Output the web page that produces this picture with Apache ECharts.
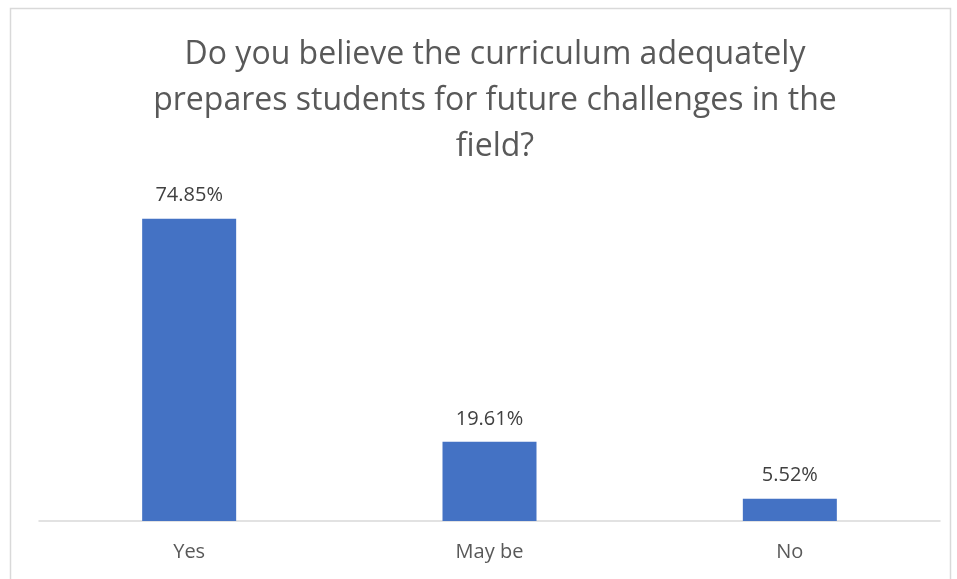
<!DOCTYPE html>
<html>
<head>
<meta charset="utf-8">
<script src="https://cdn.jsdelivr.net/npm/echarts@6/dist/echarts.min.js"></script>
<style>
  html, body { margin: 0; padding: 0; background: #fff; }
  #chart { width: 957px; height: 579px; }
</style>
</head>
<body>
<div id="chart"></div>
<script>
// 数据
var categories = ["Yes", "May be", "No"];
var percentValues = [74.85, 19.61, 5.52];
var titleText = "Do you believe the curriculum adequately\nprepares students for future challenges in the\nfield?";

(function () {
	var myChart = echarts.init(document.getElementById("chart"));
	var option = {
		title: {
			text: titleText,
			left: 490,
			top: 27,
			textAlign: "center",
			textStyle: {
				color: "#595959",
				fontFamily: "Open Sans",
				fontSize: 32,
				fontWeight: "normal",
				lineHeight: 46
			}
		},
		// 外框
		graphic: [{
			type: "rect",
			shape: { x: 10.5, y: 8.5, width: 940, height: 580 },
			style: { fill: "none", stroke: "#d9d9d9", lineWidth: 1.5 },
			silent: true
		}],
		grid: {
			left: 39,
			right: 17,
			top: 198,
			bottom: 58
		},
		xAxis: {
			type: "category",
			data: categories,
			axisTick: { show: false },
			axisLine: { lineStyle: { color: "#d9d9d9", width: 1.5 } },
			axisLabel: {
				color: "#595959",
				fontFamily: "Open Sans",
				fontSize: 20,
				margin: 21
			}
		},
		yAxis: {
			type: "value",
			min: 0,
			max: 80,
			show: false,
			splitLine: { show: false }
		},
		series: [{
			type: "bar",
			data: percentValues,
			barWidth: 94,
			itemStyle: { color: "#4472c4" },
			label: {
				show: true,
				position: "top",
				distance: 13,
				color: "#404040",
				fontFamily: "Open Sans",
				fontSize: 20,
				formatter: function (p) { return p.value.toFixed(2) + "%"; }
			}
		}]
	};
	myChart.setOption(option);
	window.addEventListener("resize", function () {
		myChart.resize();
	});
})();
</script>
</body>
</html>
